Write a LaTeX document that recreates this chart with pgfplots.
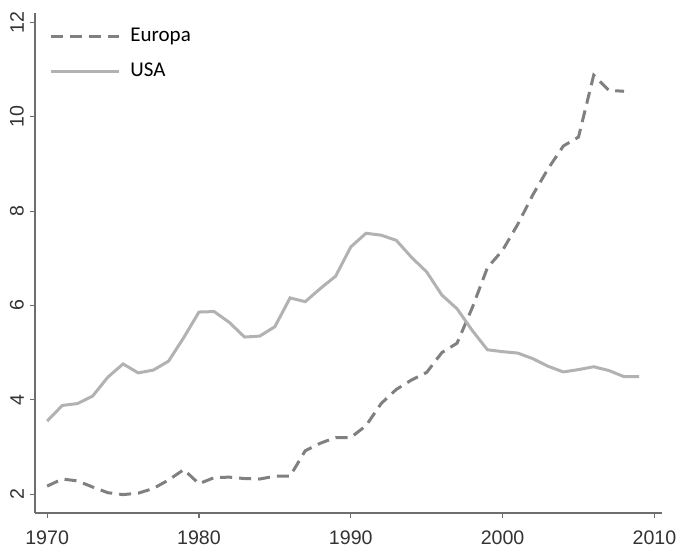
\documentclass[border=0pt]{standalone}
\usepackage{fontspec}
\setmainfont{Liberation Sans}
\newfontfamily\legfont{Carlito}
\usepackage{pgfplots}
\pgfplotsset{compat=1.18}
\definecolor{axgray}{RGB}{110,110,110}
\definecolor{eugray}{RGB}{128,128,128}
\definecolor{usgray}{RGB}{178,178,178}
\begin{document}
\begin{tikzpicture}
\begin{axis}[
    scale only axis,
    width=313.5pt, height=250pt,
    xmin=1969.2, xmax=2010.5,
    ymin=1.6, ymax=12.2,
    axis x line=bottom, axis y line=left,
    axis line style={-, axgray, line width=0.6pt},
    xtick={1970,1980,1990,2000,2010},
    ytick={2,4,6,8,10,12},
    tick align=outside,
    major tick length=2.5pt,
    tick style={axgray, line width=0.6pt},
    /pgf/number format/assume math mode=true,
    /pgf/number format/1000 sep={},
    tick label style={font=\fontsize{9.8}{11}\selectfont, text=black!80},
    yticklabel style={rotate=90, anchor=south, yshift=-0.5pt},
    xticklabel style={yshift=-3pt},
    legend style={draw=none, fill=none, at={(axis description cs:0,1)},
        anchor=north west, xshift=4pt, yshift=-3.5pt,
        font=\legfont\fontsize{10.5}{12}\selectfont, row sep=5pt,
        nodes={inner xsep=5pt}},
    legend cell align=left,
    legend image code/.code={\draw[#1] (0pt,0pt) -- (34pt,0pt);},
]
\coordinate (O) at (rel axis cs:0,0);
% Europa
\addplot[eugray, line width=1.5pt, dash pattern=on 6pt off 3.5pt] coordinates {
(1970,2.17) (1971,2.32) (1972,2.28) (1973,2.15) (1974,2.03) (1975,1.99)
(1976,2.02) (1977,2.12) (1978,2.30) (1979,2.52) (1980,2.22) (1981,2.35)
(1982,2.36) (1983,2.33) (1984,2.32) (1985,2.38) (1986,2.38) (1987,2.92)
(1988,3.08) (1989,3.20) (1990,3.20) (1991,3.45) (1992,3.92) (1993,4.22)
(1994,4.42) (1995,4.58) (1996,5.00) (1997,5.20) (1998,5.95) (1999,6.80)
(2000,7.17) (2001,7.72) (2002,8.35) (2003,8.90) (2004,9.38) (2005,9.57)
(2006,10.88) (2007,10.56) (2008,10.54)
};
\addlegendentry{Europa}
% USA
\addplot[usgray, line width=1.5pt] coordinates {
(1970,3.55) (1971,3.88) (1972,3.92) (1973,4.08) (1974,4.48) (1975,4.76)
(1976,4.57) (1977,4.63) (1978,4.82) (1979,5.32) (1980,5.86) (1981,5.87)
(1982,5.64) (1983,5.33) (1984,5.35) (1985,5.55) (1986,6.16) (1987,6.08)
(1988,6.36) (1989,6.62) (1990,7.24) (1991,7.53) (1992,7.49) (1993,7.38)
(1994,7.02) (1995,6.71) (1996,6.22) (1997,5.93) (1998,5.47) (1999,5.06)
(2000,5.02) (2001,4.99) (2002,4.87) (2003,4.71) (2004,4.59) (2005,4.64)
(2006,4.70) (2007,4.62) (2008,4.49) (2009,4.49)
};
\addlegendentry{USA}
\end{axis}
\pgfresetboundingbox
\path (O) ++(-17.5pt,-21pt) rectangle ++(338pt,277.5pt);
\end{tikzpicture}
\end{document}
